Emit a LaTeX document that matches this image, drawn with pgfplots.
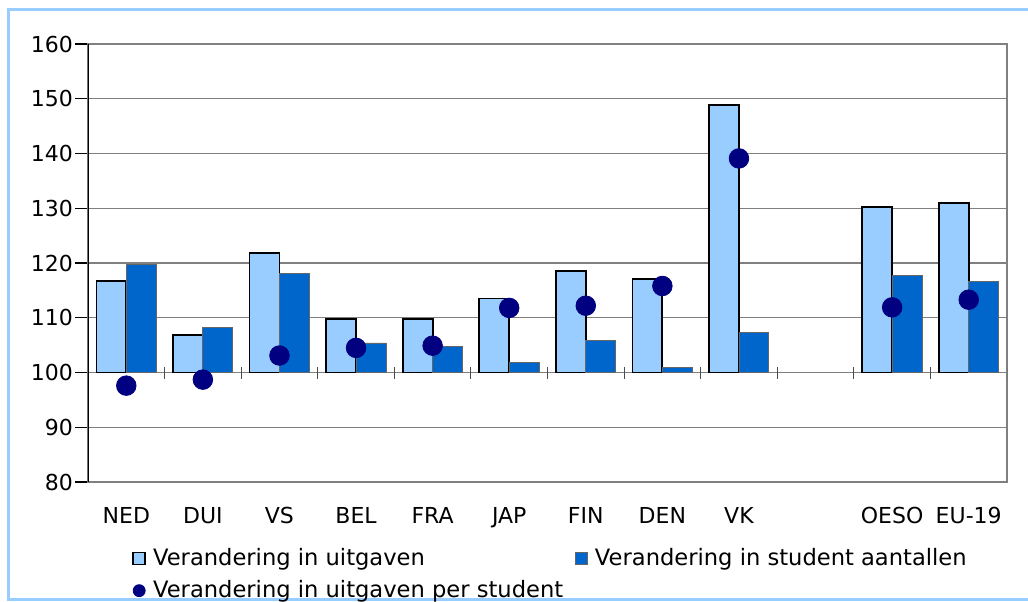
\documentclass[border=0pt]{standalone}
\usepackage{pgfplots}
\pgfplotsset{compat=1.18}
\usepackage{pgfplotstable}
\usepackage{fontspec}
\setmainfont{DejaVu Sans}

\definecolor{lightbar}{RGB}{153,204,255}
\definecolor{darkbar}{RGB}{0,102,204}
\definecolor{dotcol}{RGB}{0,0,128}
\definecolor{framecol}{RGB}{153,204,255}

% index 9 is the empty slot between VK and OESO
\pgfplotstableread{
idx uitg  stud  perst
0   116.7 119.7 97.6
1   106.9 108.3 98.7
2   121.8 118.1 103.1
3   109.8 105.4 104.5
4   109.8 104.7 104.9
5   113.5 101.9 111.8
6   118.6 105.8 112.2
7   117.1 101.0 115.8
8   148.8 107.3 139.1
10  130.2 117.8 111.9
11  131.0 116.7 113.3
}\datatable

\begin{document}
\begin{tikzpicture}
\useasboundingbox (0,0) rectangle (514pt,300.5pt);
\draw[framecol, line width=1.5pt] (4pt,1pt) rectangle (520pt,295.5pt);
\begin{axis}[
    at={(44pt,59.5pt)}, anchor=south west,
    scale only axis,
    width=459.5pt, height=219pt,
    xmin=-0.5, xmax=11.5,
    ymin=-20, ymax=60,
    ytick={-20,-10,...,60},
    yticklabels={80,90,100,110,120,130,140,150,160},
    xtick={0,1,2,3,4,5,6,7,8,10,11},
    xticklabels={NED,DUI,VS,BEL,FRA,JAP,FIN,DEN,VK,OESO,EU-19},
    major x tick style={draw=none},
    ytick pos=left,
    tick align=outside,
    major tick length=6.5pt,
    ytick style={black, line width=0.6pt},
    ymajorgrids,
    major grid style={gray, line width=0.6pt},
    axis line style={gray, line width=0.6pt},
    tick label style={font=\fontsize{11}{13}\selectfont},
    xticklabel style={yshift=-2.5pt},
    yticklabel style={xshift=2.5pt},
    legend columns=2,
    legend cell align=left,
    legend style={at={(axis description cs:0,0)}, anchor=north west,
        xshift=19pt, yshift=-29pt, draw=none, fill=none,
        font=\fontsize{11.3}{13}\selectfont, row sep=2pt,
        /tikz/every even column/.append style={column sep=4pt}},
]
\addplot[ybar, bar width=0.39, bar shift=-0.195, fill=lightbar, draw=black, line width=0.9pt,
    legend image code/.code={\draw[fill=lightbar, draw=black, line width=0.8pt] (0pt,-3pt) rectangle (6pt,3pt); \path (7.5pt,0pt);}]
    table[x=idx, y expr=\thisrow{uitg}-100] {\datatable};
\addlegendentry{Verandering in uitgaven}
\addplot[ybar, bar width=0.39, bar shift=0.195, fill=darkbar, draw=black!60, line width=0.4pt,
    legend image code/.code={\draw[fill=darkbar, draw=black!60, line width=0.4pt] (0pt,-3pt) rectangle (6pt,3pt); \path (7.5pt,0pt);}]
    table[x=idx, y expr=\thisrow{stud}-100] {\datatable};
\addlegendentry{Verandering in student aantallen}
\addplot[only marks, mark=*, mark size=4.9pt, color=dotcol,
    legend image code/.code={\fill[dotcol] (3pt,0pt) circle (3pt); \path (7.5pt,0pt);}]
    table[x=idx, y expr=\thisrow{perst}-100] {\datatable};
\addlegendentry{Verandering in uitgaven per student}
\draw[black, line width=0.9pt] (rel axis cs:0,0) -- (rel axis cs:0,1);
\pgfplotsinvokeforeach{0,...,11}{
  \draw[black!70, line width=0.5pt] ([yshift=-3pt]axis cs:#1.5,0) -- ([yshift=3pt]axis cs:#1.5,0);
}
\end{axis}
\end{tikzpicture}
\end{document}
